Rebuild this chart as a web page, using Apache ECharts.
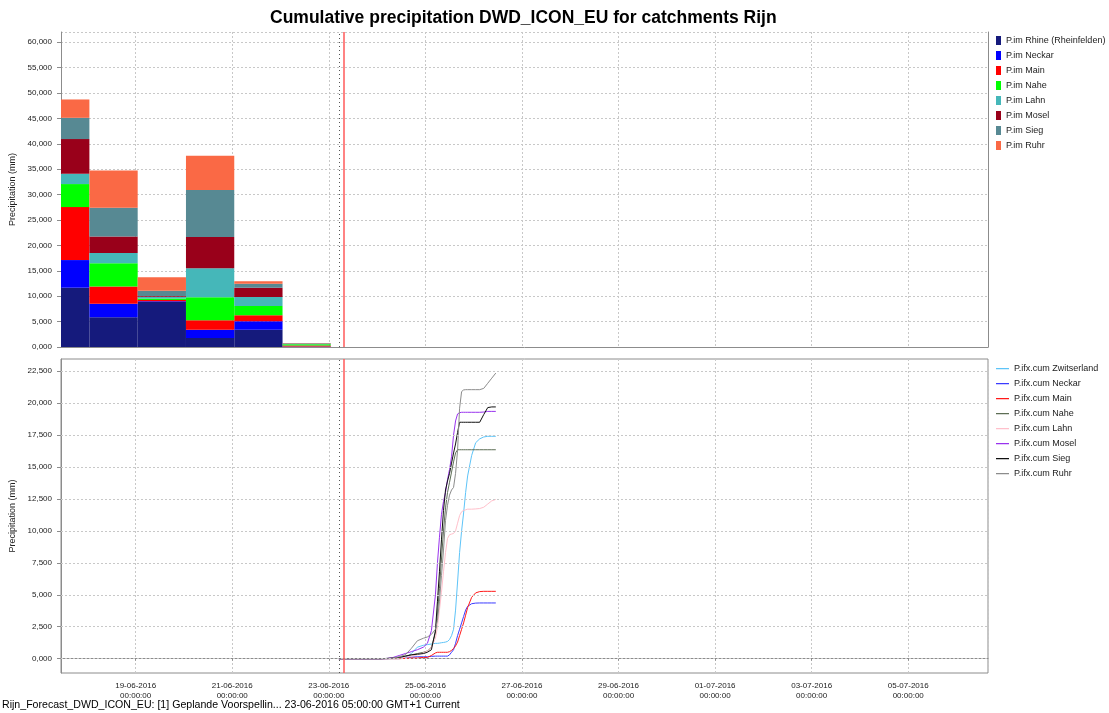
<!DOCTYPE html>
<html><head><meta charset="utf-8">
<script src="https://cdn.jsdelivr.net/npm/echarts@6/dist/echarts.min.js"></script>
<style>html,body{margin:0;padding:0;background:#fff}#c{width:1109px;height:713px}</style>
</head><body><div id="c"></div>
<script>
function ts(s){const [d,tm]=s.split(' ');const [Y,M,D]=d.split('-').map(Number);const [h,m]=(tm||'0:0').split(':').map(Number);return new Date(Y,M-1,D,h,m).getTime();}
const HOUR = 3600e3;

// ---------- top chart: daily precipitation per catchment (stacked) ----------
const barNames = ['P.im Rhine (Rheinfelden)','P.im Neckar','P.im Main','P.im Nahe','P.im Lahn','P.im Mosel','P.im Sieg','P.im Ruhr'];
const barColors = ['#151a7c','#0000ff','#ff0000','#00ff00','#45b7b9','#99001a','#578993','#fa6945'];
const barDayStarts = ['2016-06-17 01:00','2016-06-18 01:00','2016-06-19 01:00','2016-06-20 01:00','2016-06-21 01:00','2016-06-22 01:00'];
const barRhine  = [11.67, 5.84, 8.86, 1.77, 3.41, 0.05];
const barNeckar = [ 5.44, 2.68, 0.15, 1.64, 1.64, 0.03];
const barMain   = [10.43, 3.41, 0.25, 1.84, 1.18, 0.20];
const barNahe   = [ 4.53, 4.53, 0.30, 4.52, 1.84, 0.25];
const barLahn   = [ 2.03, 2.03, 0.35, 5.71, 1.77, 0.05];
const barMosel  = [ 6.82, 3.28, 0.15, 6.16, 1.83, 0.08];
const barSieg   = [ 4.19, 5.64, 1.00, 9.25, 0.79, 0.08];
const barRuhr   = [ 3.61, 7.34, 2.65, 6.75, 0.46, 0.05];
const barValues = [barRhine, barNeckar, barMain, barNahe, barLahn, barMosel, barSieg, barRuhr];

// ---------- bottom chart: cumulative forecast precipitation ----------
const lineNames = ['P.ifx.cum Zwitserland','P.ifx.cum Neckar','P.ifx.cum Main','P.ifx.cum Nahe','P.ifx.cum Lahn','P.ifx.cum Mosel','P.ifx.cum Sieg','P.ifx.cum Ruhr'];
const lineColors = ['#5ec4f8','#3b3bff','#ff1a1a','#5d6e55','#ffc0cb','#9933ee','#111111','#8c8c8c'];
const forecastStart = '2016-06-23 05:00';
const lineHours = [0,18,21,24,27,30,33,36,39,42,44,46,48,49,50,51,52,53,54,55,56,57,58,59,60,61,62,63,64,66,68,70,72,74,76,78];
const cumZwitserland = [0,0,0,0,0,0,0.1,0.4,0.9,1.05,1.1,1.15,1.2,1.2,1.22,1.25,1.27,1.3,1.35,1.5,1.8,2.3,3.8,6.0,8.3,10.0,11.4,13.0,14.3,15.9,16.9,17.2,17.35,17.4,17.4,17.4];
const cumNeckar = [0,0,0,0,0.02,0.05,0.1,0.12,0.15,0.15,0.15,0.18,0.2,0.2,0.2,0.2,0.2,0.2,0.2,0.3,0.5,0.7,1.2,1.8,2.3,2.8,3.3,3.8,4.1,4.3,4.35,4.36,4.36,4.36,4.36,4.36];
const cumMain = [0,0,0,0,0,0,0.02,0.05,0.05,0.1,0.1,0.25,0.45,0.5,0.5,0.5,0.5,0.5,0.5,0.55,0.65,0.8,1.0,1.3,1.8,2.3,2.8,3.4,4.0,4.8,5.15,5.25,5.27,5.27,5.27,5.27];
const cumNahe = [0,0,0,0.02,0.05,0.1,0.2,0.3,0.4,0.5,0.6,0.9,2.0,3.5,5.5,7.8,10.0,11.8,13.0,13.8,14.6,15.4,16.1,16.35,16.35,16.35,16.35,16.35,16.35,16.35,16.35,16.35,16.35,16.35,16.35,16.35];
const cumLahn = [0,0,0,0,0.02,0.05,0.1,0.2,0.3,0.45,0.6,0.9,1.6,2.5,3.8,5.2,6.8,8.3,9.4,9.7,9.75,9.8,10.0,10.6,11.2,11.5,11.6,11.65,11.7,11.7,11.72,11.75,11.85,12.1,12.35,12.46];
const cumMosel = [0,0,0,0.02,0.1,0.25,0.4,0.55,0.7,0.9,1.2,2.2,5.0,7.5,9.5,11.3,12.3,13.0,14.0,14.8,15.8,17.5,18.6,19.15,19.25,19.28,19.28,19.28,19.28,19.28,19.28,19.28,19.3,19.35,19.35,19.35];
const cumSieg = [0,0,0,0.02,0.05,0.1,0.2,0.3,0.35,0.4,0.5,0.7,2.2,4.5,6.8,9.3,11.6,13.2,13.9,14.5,15.3,16.1,16.8,17.7,18.5,18.5,18.5,18.5,18.5,18.5,18.5,18.5,19.1,19.65,19.7,19.7];
const cumRuhr = [0,0,0,0,0.05,0.15,0.3,0.8,1.4,1.6,1.7,1.9,2.3,3.0,4.5,6.5,8.5,10.8,12.0,12.8,13.2,13.4,14.5,16.3,19.6,20.9,21.03,21.05,21.05,21.05,21.05,21.05,21.15,21.55,21.95,22.35];
const lineValues = [cumZwitserland, cumNeckar, cumMain, cumNahe, cumLahn, cumMosel, cumSieg, cumRuhr];

// ---------- axes ----------
const xRange = ['2016-06-17 10:53','2016-07-06 15:39'];
const nowTime = '2016-06-23 07:40';
const topYRange = [0, 62];
const topYInterval = 5;
const bottomYRange = [-1.12, 23.45];
const bottomYTicks = [0,2.5,5,7.5,10,12.5,15,17.5,20,22.5];
const titleText = 'Cumulative precipitation DWD_ICON_EU for catchments Rijn';
const footerText = 'Rijn_Forecast_DWD_ICON_EU: [1] Geplande Voorspellin... 23-06-2016 05:00:00 GMT+1 Current';
const yName = 'Precipitation (mm)';

const xMin = ts(xRange[0]), xMax = ts(xRange[1]);
const t0 = ts(forecastStart), tNow = ts(nowTime);
const FONT = "'Liberation Sans', Arial, sans-serif";
const GRID = '#c8c8c8', AX = '#8c8c8c';
const numFmt = v => v.toFixed(3).replace('.', ',');
const p2 = n => String(n).padStart(2,'0');
const dateFmt = v => { const d = new Date(v); return p2(d.getDate())+'-'+p2(d.getMonth()+1)+'-'+d.getFullYear()+'\n'+p2(d.getHours())+':'+p2(d.getMinutes())+':'+p2(d.getSeconds()); };
const dotted = {show:true, lineStyle:{color:GRID, width:1, type:[2,2]}};
// legend icon: thin horizontal stroke inside a 13x9 box
const lineIcon = 'path://M0,0h0.01v0.01h-0.01Z M0,4h13v1.2h-13Z M12.99,8.99h0.01v0.01h-0.01Z';

const series = [];
const cum = barDayStarts.map(() => 0);
barNames.forEach((name, i) => {
  const data = barDayStarts.map((s, d) => {
    const st = ts(s); const lo = cum[d]; const hi = lo + barValues[i][d]; cum[d] = hi;
    return [st, st + 24*HOUR, lo, hi];
  });
  series.push({
    name, type:'custom', xAxisIndex:0, yAxisIndex:0, color: barColors[i],
    encode:{x:[0,1], y:[2,3]}, data,
    renderItem(params, api){
      const a = api.coord([api.value(0), api.value(3)]);
      const b = api.coord([api.value(1), api.value(2)]);
      const cs = params.coordSys;
      const shape = echarts.graphic.clipRectByRect({x:a[0], y:a[1], width:b[0]-a[0], height:b[1]-a[1]}, {x:cs.x, y:cs.y, width:cs.width, height:cs.height});
      return shape && {type:'rect', shape, style:{fill: api.visual('color')}};
    }
  });
});
lineNames.forEach((name, i) => {
  series.push({
    name, type:'line', xAxisIndex:1, yAxisIndex:1, color: lineColors[i], symbol:'none', showSymbol:false, z:3,
    itemStyle:{color: lineColors[i]},
    lineStyle:{width:1, color: lineColors[i]},
    data: lineHours.map((h, k) => [t0 + h*HOUR, lineValues[i][k]])
  });
});
const vMarks = [
  {xAxis: t0, lineStyle:{color:'#555', width:1, type:[1,3]}},
  {xAxis: tNow, lineStyle:{color:'#ff5a5a', width:1.5, type:'solid'}}
];
series.push({type:'line', xAxisIndex:0, yAxisIndex:0, data:[[t0,0]], symbol:'none', lineStyle:{opacity:0}, z:4,
  markLine:{silent:true, symbol:'none', label:{show:false}, animation:false, data: vMarks}});
series.push({type:'line', xAxisIndex:1, yAxisIndex:1, data:[[t0,0]], symbol:'none', lineStyle:{opacity:0}, z:1,
  markLine:{silent:true, symbol:'none', label:{show:false}, animation:false,
    data: bottomYTicks.map(v => ({yAxis:v, lineStyle:{color:GRID, width:1, type:[2,2]}}))}});
series.push({type:'line', xAxisIndex:1, yAxisIndex:1, data:[[t0,0]], symbol:'none', lineStyle:{opacity:0}, z:4,
  markLine:{silent:true, symbol:'none', label:{show:false}, animation:false, data: vMarks}});

const option = {
  animation:false,
  backgroundColor:'#fff',
  textStyle:{fontFamily:FONT},
  title:[
    {text:titleText, left:270, top:9, padding:0, textStyle:{fontSize:17.5, fontWeight:'bold', color:'#000', fontFamily:FONT}},
    {text:footerText, left:2, top:700, padding:0, textStyle:{fontSize:10.6, fontWeight:'normal', color:'#000', fontFamily:FONT}}
  ],
  legend:[
    {data:barNames, orient:'vertical', left:996, top:36, padding:0, itemWidth:5, itemHeight:9, itemGap:6, icon:'rect', selectedMode:false,
     textStyle:{fontSize:9, color:'#222', fontFamily:FONT}},
    {data:lineNames, orient:'vertical', left:996, top:364, padding:0, itemWidth:13, itemHeight:9, itemGap:6, icon:lineIcon, selectedMode:false,
     textStyle:{fontSize:9, color:'#222', fontFamily:FONT}}
  ],
  grid:[
    {left:61, right:121, top:32, bottom:366, outerBoundsMode:'none'},
    {left:61, right:121, top:359, bottom:40, show:true, borderColor:AX, borderWidth:1, outerBoundsMode:'none'}
  ],
  xAxis:[
    {type:'time', gridIndex:0, min:xMin, max:xMax, splitNumber:9, axisLine:{show:false}, axisTick:{show:false}, axisLabel:{show:false}, splitLine:dotted},
    {type:'time', gridIndex:1, min:xMin, max:xMax, splitNumber:9, axisLine:{show:true, lineStyle:{color:AX}}, axisTick:{show:true, length:2, lineStyle:{color:AX}},
     axisLabel:{formatter:dateFmt, fontSize:8, lineHeight:10, color:'#222', margin:8, fontFamily:FONT, hideOverlap:false}, splitLine:dotted},
    {type:'time', gridIndex:0, position:'top', min:xMin, max:xMax, axisLine:{show:true, lineStyle:{color:AX}}, axisTick:{show:false}, axisLabel:{show:false}, splitLine:{show:false}}
  ],
  yAxis:[
    {type:'value', gridIndex:0, min:topYRange[0], max:topYRange[1], interval:topYInterval,
     axisLine:{show:true, lineStyle:{color:AX}}, axisTick:{show:true, length:4, lineStyle:{color:AX}},
     axisLabel:{formatter:numFmt, fontSize:8, color:'#222', margin:9, showMaxLabel:false, fontFamily:FONT}, splitLine:dotted,
     name:yName, nameLocation:'middle', nameGap:37, nameTextStyle:{fontSize:9, color:'#222', fontFamily:FONT}},
    {type:'value', gridIndex:1, min:bottomYRange[0], max:bottomYRange[1],
     axisLine:{show:true, lineStyle:{color:AX}}, axisTick:{show:true, length:4, lineStyle:{color:AX}, customValues:bottomYTicks},
     axisLabel:{formatter:numFmt, fontSize:8, color:'#222', margin:9, customValues:bottomYTicks, fontFamily:FONT}, splitLine:{show:false},
     name:yName, nameLocation:'middle', nameGap:37, nameTextStyle:{fontSize:9, color:'#222', fontFamily:FONT}},
    {type:'value', gridIndex:0, position:'right', min:topYRange[0], max:topYRange[1], axisLine:{show:true, lineStyle:{color:AX}}, axisTick:{show:false}, axisLabel:{show:false}, splitLine:{show:false}}
  ],
  series
};
const chart = echarts.init(document.getElementById('c'), null, {renderer:'canvas'});
chart.setOption(option);
</script></body></html>
